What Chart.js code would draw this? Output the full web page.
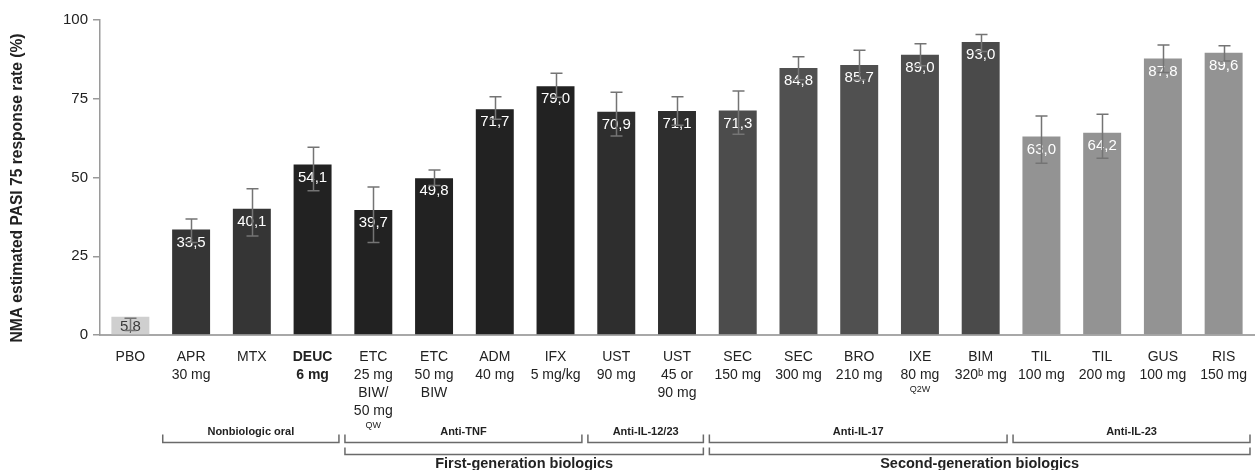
<!DOCTYPE html>
<html>
<head>
<meta charset="utf-8">
<script src="https://cdn.jsdelivr.net/npm/chart.js@4.4.1/dist/chart.umd.min.js"></script>
<style>
  html, body { margin: 0; padding: 0; background: #ffffff; }
  #wrap { width: 1255px; height: 470px; }
</style>
</head>
<body>
<div id="wrap"><canvas id="c" width="1255" height="470"></canvas></div>
<script>
// Treatments (label lines shown under each bar)
const treatments = [
  ['PBO'],
  ['APR', '30 mg'],
  ['MTX'],
  ['DEUC', '6 mg'],
  ['ETC', '25 mg', 'BIW/', '50 mg'],
  ['ETC', '50 mg', 'BIW'],
  ['ADM', '40 mg'],
  ['IFX', '5 mg/kg'],
  ['UST', '90 mg'],
  ['UST', '45 or', '90 mg'],
  ['SEC', '150 mg'],
  ['SEC', '300 mg'],
  ['BRO', '210 mg'],
  ['IXE', '80 mg'],
  ['BIM', '320\u1D47 mg'],
  ['TIL', '100 mg'],
  ['TIL', '200 mg'],
  ['GUS', '100 mg'],
  ['RIS', '150 mg']
];
// Dosing-frequency footnotes printed small under a label
const doseNotes = ['', '', '', '', 'QW', '', '', '', '', '', '', '', '', 'Q2W', '', '', '', '', ''];
const emphasizedTreatment = 'DEUC';

// NMA estimated PASI 75 response rate (%) and credible interval
const pasi75 = [5.8, 33.5, 40.1, 54.1, 39.7, 49.8, 71.7, 79.0, 70.9, 71.1, 71.3, 84.8, 85.7, 89.0, 93.0, 63.0, 64.2, 87.8, 89.6];
const ciLow  = [1.4, 29.4, 31.4, 45.8, 29.4, 47.5, 68.5, 75.5, 63.2, 66.6, 63.7, 81.0, 81.0, 85.5, 90.0, 54.5, 56.1, 83.3, 87.0];
const ciHigh = [5.3, 36.8, 46.4, 59.6, 47.0, 52.4, 75.6, 83.1, 77.1, 75.6, 77.5, 88.3, 90.4, 92.5, 95.4, 69.5, 70.1, 92.1, 91.8];

const yTicks = [0, 25, 50, 75, 100];
const yTitle = 'NMA estimated PASI 75 response rate (%)';

// Drug classes (first bracket row) and generations (second bracket row), by treatment index
const classGroups = [
  { label: 'Nonbiologic oral', from: 1, to: 3 },
  { label: 'Anti-TNF', from: 4, to: 7 },
  { label: 'Anti-IL-12/23', from: 8, to: 9 },
  { label: 'Anti-IL-17', from: 10, to: 14 },
  { label: 'Anti-IL-23', from: 15, to: 18 }
];
const generationGroups = [
  { label: 'First-generation biologics', from: 4, to: 9 },
  { label: 'Second-generation biologics', from: 10, to: 18 }
];

// Shades by class
const barColors = [
  '#cfcfcf',
  '#353535', '#353535',
  '#222222', '#222222', '#222222', '#222222', '#222222',
  '#2e2e2e', '#2e2e2e',
  '#4c4c4c', '#505050', '#505050', '#4e4e4e', '#4a4a4a',
  '#939393', '#939393', '#939393', '#939393'
];

const FONT = '"Liberation Sans", Arial, sans-serif';
const fmt = v => v.toFixed(1).replace('.', ',');

const annotations = {
  id: 'annotations',
  afterDatasetsDraw(chart) {
    const ctx = chart.ctx;
    const y = chart.scales.y;
    const meta = chart.getDatasetMeta(0);
    const base = y.getPixelForValue(0);

    // values inside the bars
    ctx.save();
    ctx.font = '15px ' + FONT;
    ctx.textAlign = 'center';
    ctx.textBaseline = 'middle';
    meta.data.forEach((bar, i) => {
      const top = bar.y;
      const cy = Math.min(top + 12, (top + base) / 2);
      ctx.fillStyle = i === 0 ? '#3a3a3a' : '#ffffff';
      ctx.fillText(fmt(pasi75[i]), bar.x, cy + 1);
    });
    ctx.restore();

    // interval whiskers
    ctx.save();
    ctx.strokeStyle = '#747474';
    ctx.lineWidth = 1.5;
    meta.data.forEach((bar, i) => {
      const x = Math.round(bar.x) + 0.5;
      const yl = y.getPixelForValue(ciLow[i]);
      const yh = y.getPixelForValue(ciHigh[i]);
      ctx.beginPath();
      ctx.moveTo(x, yl); ctx.lineTo(x, yh);
      ctx.moveTo(x - 6, yh); ctx.lineTo(x + 6, yh);
      ctx.moveTo(x - 6, yl); ctx.lineTo(x + 6, yl);
      ctx.stroke();
    });
    ctx.restore();
  },
  afterDraw(chart) {
    const ctx = chart.ctx;
    const x = chart.scales.x;
    const area = chart.chartArea;

    // category labels
    ctx.save();
    ctx.fillStyle = '#222222';
    ctx.textAlign = 'center';
    ctx.textBaseline = 'middle';
    treatments.forEach((lines, i) => {
      const cx = x.getPixelForValue(i);
      const bold = lines[0] === emphasizedTreatment;
      ctx.font = (bold ? 'bold ' : '') + '14px ' + FONT;
      let ly = area.bottom + 22;
      lines.forEach((t, j) => {
        ly = area.bottom + 22 + j * 18;
        ctx.fillText(t, cx, ly);
      });
      if (doseNotes[i]) {
        ctx.font = '9px ' + FONT;
        ctx.fillText(doseNotes[i], cx, ly + 15);
      }
    });
    ctx.restore();

    // brackets
    const step = x.getPixelForValue(1) - x.getPixelForValue(0);
    const drawBracket = (g, lineY, rise, labelY, font) => {
      const left = x.getPixelForValue(g.from) - step / 2 + 2;
      const right = Math.min(x.getPixelForValue(g.to) + step / 2 - 4, area.right - 2);
      ctx.beginPath();
      ctx.moveTo(left, lineY - rise);
      ctx.lineTo(left, lineY);
      ctx.lineTo(right, lineY);
      ctx.lineTo(right, lineY - rise);
      ctx.stroke();
      ctx.font = font;
      ctx.fillText(g.label, (left + right) / 2, labelY);
    };
    ctx.save();
    ctx.strokeStyle = '#6a6a6a';
    ctx.lineWidth = 1.5;
    ctx.fillStyle = '#222222';
    ctx.textAlign = 'center';
    ctx.textBaseline = 'middle';
    classGroups.forEach(g => drawBracket(g, 442.5, 8, 432, 'bold 11px ' + FONT));
    generationGroups.forEach(g => drawBracket(g, 454.5, 7, 464, 'bold 14.5px ' + FONT));
    ctx.restore();

    // y-axis title
    ctx.save();
    ctx.translate(18, 188);
    ctx.rotate(-Math.PI / 2);
    ctx.font = 'bold 15.6px ' + FONT;
    ctx.fillStyle = '#222222';
    ctx.textAlign = 'center';
    ctx.textBaseline = 'middle';
    ctx.fillText(yTitle, 0, 0);
    ctx.restore();
  }
};

new Chart(document.getElementById('c'), {
  type: 'bar',
  data: {
    labels: treatments.map(l => l.join(' ')),
    datasets: [{
      data: pasi75,
      backgroundColor: barColors,
      borderWidth: 0,
      barPercentage: 0.625,
      categoryPercentage: 1.0
    }]
  },
  options: {
    responsive: false,
    animation: false,
    layout: { padding: { top: 20, right: 1, left: 0, bottom: 0 } },
    plugins: { legend: { display: false }, tooltip: { enabled: false } },
    scales: {
      x: {
        ticks: { display: false },
        grid: { display: false },
        border: { display: true, color: '#a8a8a8', width: 2 },
        afterFit: s => { s.height = 135; }
      },
      y: {
        min: 0,
        max: 100,
        afterBuildTicks: s => { s.ticks = yTicks.map(v => ({ value: v })); },
        ticks: { font: { family: FONT, size: 15 }, color: '#222222', padding: 5 },
        grid: { drawOnChartArea: false, drawTicks: true, tickLength: 7, color: '#9a9a9a', lineWidth: 1.5 },
        border: { display: true, color: '#9a9a9a', width: 1.5 },
        afterFit: s => { s.width = 100; }
      }
    }
  },
  plugins: [annotations]
});
</script>
</body>
</html>
